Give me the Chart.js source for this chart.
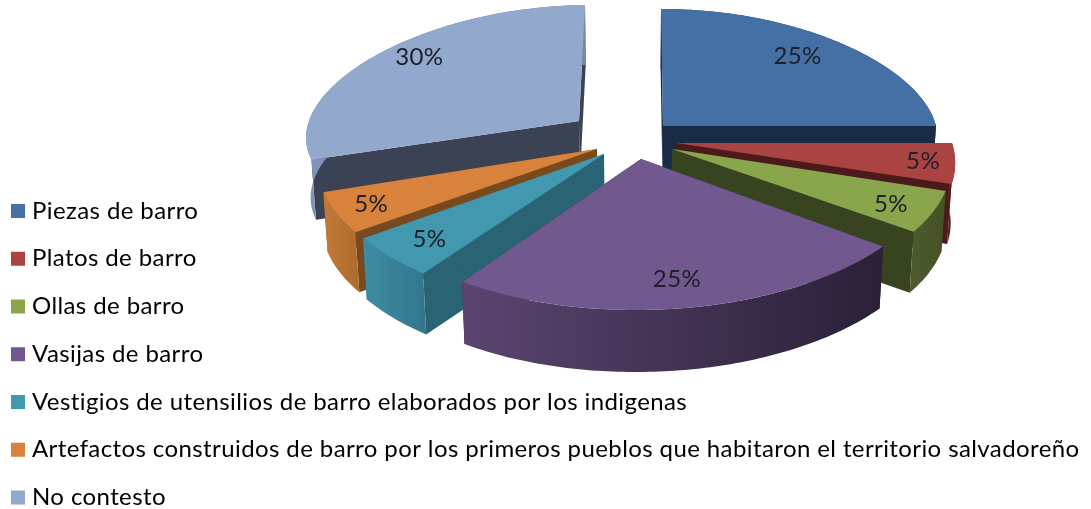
<!DOCTYPE html>
<html><head><meta charset="utf-8">
<style>html,body{margin:0;padding:0;background:#fff}canvas{display:block}</style>
<script src="https://cdn.jsdelivr.net/npm/chart.js@4"></script>
</head><body><canvas id="c" width="1091" height="509"></canvas>
<script>
const categories=["Piezas de barro","Platos de barro","Ollas de barro","Vasijas de barro","Vestigios de utensilios de barro elaborados por los indigenas","Artefactos construidos de barro por los primeros pueblos que habitaron el territorio salvadoreño","No contesto"];
const shares=[25,5,5,25,5,5,30];
const topColors=["#4470A6","#A94442","#8AA64D","#71588F","#4198AF","#D8823C","#92A8CD"];
const sideColors=["#1A2C45","#4A1B1A","#384320","#2B2138","#2A6474","#7A4A1F","#3B4254"];
const wallLeft=["#1A2C45","#5A1F1E","#4C5B2C","#5B4570","#3E8DA4","#C27A38","#7E93B8"];
const wallRight=["#1A2C45","#4A1B1A","#435126","#2A2037","#33778E","#B06D30","#7488AC"];
// oblique-view frame of each exploded slice: apex, x axis, y axis, foreshortening, wall height
const frames=[
 {a:[663,126],X:[273,0],Y:[2,117],p:.1,d:60},
 {a:[676,143],X:[276,0],Y:[42,133],p:0,d:60},
 {a:[672,149],X:[279,-3],Y:[27,145],p:0,d:61},
 {a:[641,159],X:[301,-1.5],Y:[-2.5,151],p:0,d:62},
 {a:[604,154],X:[287,6],Y:[-15,152],p:0,d:61},
 {a:[597,149],X:[279,1],Y:[-27,143],p:0,d:60},
 {a:[579,121],X:[271,-3],Y:[-6,116],p:.1,d:60}];
const labelFrac=[.46,.49,.55,.5,.48,.5,.55];
const labelRad=[.80,.885,.845,.806,.822,.866,.85];
const vanishX=635, converge=.014;
const drawOrder=[6,0,1,5,2,4,3];

function project(f,theta,r){
  const ux=Math.sin(theta)*r, uy=-Math.cos(theta)*r;
  return [f.a[0]+ux*f.X[0]*(1+f.p*uy)+uy*f.Y[0], f.a[1]+ux*f.X[1]+uy*f.Y[1]];
}
function poly(ctx,pts,color){
  ctx.beginPath();pts.forEach((p,i)=>i?ctx.lineTo(p[0],p[1]):ctx.moveTo(p[0],p[1]));ctx.closePath();
  ctx.fillStyle=color;ctx.fill();
}

const slice3d={
  id:'slice3d',
  afterLayout(chart){
    const l=chart.legend;l.left=-7.75;l.right=1091;l.top=175.25;l.bottom=1200;
  },
  beforeDraw(chart){chart.ctx.letterSpacing='0.4px';},
  beforeDatasetDraw(chart){
    const ctx=chart.ctx, meta=chart.getDatasetMeta(0);
    ctx.save();
    drawOrder.forEach(i=>{
      const arc=meta.data[i], f=frames[i];
      const drop=pt=>[pt[0]-(pt[0]-vanishX)*converge, pt[1]+f.d];
      const s=arc.startAngle+Math.PI/2, e=arc.endAngle+Math.PI/2;
      const A=f.a, n=Math.max(12,Math.round((e-s)*180/Math.PI));
      const rim=[];for(let k=0;k<=n;k++)rim.push(project(f,s+(e-s)*k/n,1));
      poly(ctx,[A,rim[0],drop(rim[0]),drop(A)],sideColors[i]);
      poly(ctx,[A,rim[n],drop(rim[n]),drop(A)],sideColors[i]);
      const xs=rim.map(p=>p[0]);
      const g=ctx.createLinearGradient(Math.min(...xs),0,Math.max(...xs),0);
      g.addColorStop(0,wallLeft[i]);g.addColorStop(1,wallRight[i]);
      poly(ctx,[...rim,...rim.slice().reverse().map(drop)],g);
      poly(ctx,[A,...rim],topColors[i]);
    });
    ctx.font='24px Lato';ctx.fillStyle='#20202A';ctx.textAlign='center';ctx.textBaseline='middle';
    const total=shares.reduce((a,b)=>a+b,0);
    drawOrder.forEach(i=>{
      const arc=meta.data[i];
      const s=arc.startAngle+Math.PI/2, e=arc.endAngle+Math.PI/2;
      const p=project(frames[i],s+(e-s)*labelFrac[i],labelRad[i]);
      ctx.fillText(Math.round(shares[i]/total*100)+'%',p[0],p[1]);
    });
    ctx.restore();
    return false;
  }
};

new Chart(document.getElementById('c'),{
  type:'pie',
  data:{labels:categories,datasets:[{data:shares,backgroundColor:topColors}]},
  plugins:[slice3d],
  options:{
    responsive:false,animation:false,
    plugins:{
      tooltip:{enabled:false},
      legend:{position:'left',align:'start',
        labels:{font:{family:'Lato',size:24,lineHeight:1},color:'#222',padding:23.75,boxWidth:4,boxHeight:4,
          generateLabels(){return categories.map((t,i)=>({text:t,fillStyle:topColors[i],strokeStyle:topColors[i],lineWidth:10,index:i}));}
        }
      }
    }
  }
});
</script></body></html>
